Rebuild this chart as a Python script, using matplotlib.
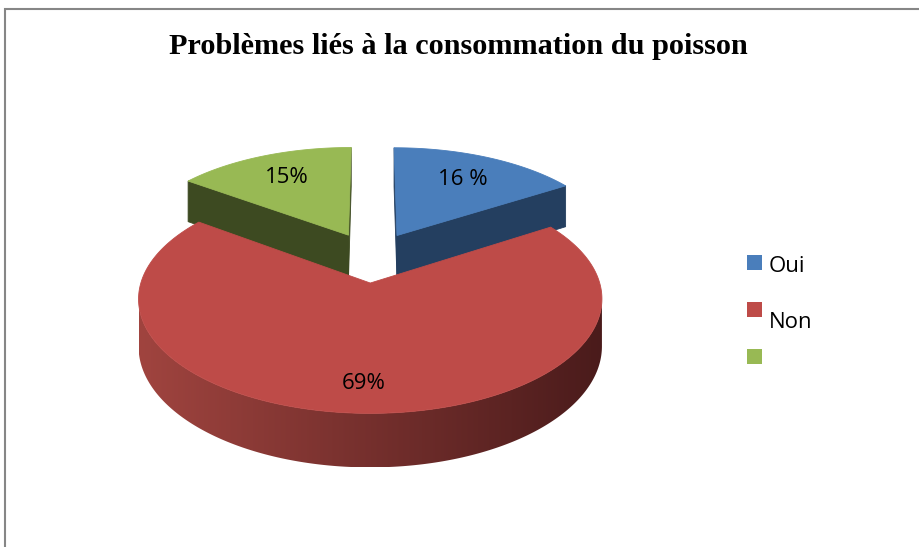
import numpy as np
import matplotlib.pyplot as plt
from matplotlib.patches import Polygon, Rectangle
from matplotlib.colors import to_rgb

# data
categories = ["Oui", "Non", ""]
values = [16, 69, 15]
labels = ["16 %", "69%", "15%"]
title = "Problèmes liés à la consommation du poisson"

top_colors = ["#4a7ebb", "#be4b48", "#98b954"]
face_colors = ["#243f60", "#7a302e", "#3d4a21"]
grad_left, grad_right = "#a0443f", "#4a1b1b"

# layout of the 3d pie (axes use pixel units)
CX, CY = 372, 257
SX, SY = 222, 105
BETA = 0.135      # perspective
DEPTH = 45
EXPLODE = 0.24
CAM = (0.0, -1.0 / BETA)
lab_r = [0.7, 0.8, 0.7]


def proj(X, Y, z=0.0):
    den = 1 + BETA * np.asarray(Y)
    return CX + SX * np.asarray(X) / den, CY - SY * np.asarray(Y) / den + z * DEPTH / den


def poly(ax, xs, ys, fc, z):
    p = Polygon(np.column_stack([xs, ys]), closed=True, fc=fc, ec=fc, lw=0.6, zorder=z)
    ax.add_patch(p)
    return p


fig = plt.figure(figsize=(9.19, 5.47), dpi=100)
ax = fig.add_axes([0, 0, 1, 1])
ax.axis("off")

total = sum(values)
bounds = np.concatenate([[0], np.cumsum(values)]) / total * 360.0
slices = []
for i in range(len(values)):
    a0, a1 = bounds[i], bounds[i + 1]
    mid = np.radians((a0 + a1) / 2)
    ox, oy = EXPLODE * np.sin(mid), EXPLODE * np.cos(mid)
    slices.append((i, a0, a1, ox, oy))

# back slices first
slices.sort(key=lambda s: -s[4])
z = 1
for i, a0, a1, ox, oy in slices:
    # flat radial faces
    for a, sgn in ((a0, -1), (a1, 1)):
        r = np.radians(a)
        n = (sgn * np.cos(r), -sgn * np.sin(r))
        p = (ox + 0.5 * np.sin(r), oy + 0.5 * np.cos(r))
        if n[0] * (CAM[0] - p[0]) + n[1] * (CAM[1] - p[1]) > 0:
            Xs = [ox, ox + np.sin(r), ox + np.sin(r), ox]
            Ys = [oy, oy + np.cos(r), oy + np.cos(r), oy]
            zs = [0, 0, 1, 1]
            px, py = zip(*[proj(X, Y, zz) for X, Y, zz in zip(Xs, Ys, zs)])
            poly(ax, px, py, face_colors[i], z)
            z += 1
    # curved outer side: visible part, filled with a horizontal gradient
    t = np.radians(np.linspace(a0, a1, 400))
    X = ox + np.sin(t)
    Y = oy + np.cos(t)
    vis = np.sin(t) * (CAM[0] - X) + np.cos(t) * (CAM[1] - Y) > 0
    if vis.any():
        Xv, Yv = X[vis], Y[vis]
        tx, ty = proj(Xv, Yv)
        bx, by = proj(Xv, Yv, 1)
        side = poly(ax, np.concatenate([tx, bx[::-1]]), np.concatenate([ty, by[::-1]]),
                    "none", z)
        side.set_edgecolor("none")
        cl, cr = np.array(to_rgb(grad_left)), np.array(to_rgb(grad_right))
        f = np.linspace(0, 1, 256)[None, :, None]
        grad = cl * (1 - f) + cr * f
        im = ax.imshow(grad, extent=(tx.min(), tx.max(), by.max(), ty.min()),
                       aspect="auto", interpolation="bilinear", zorder=z)
        im.set_clip_path(side)
        z += 1
    # top face
    tx, ty = proj(np.concatenate([[ox], X]), np.concatenate([[oy], Y]))
    poly(ax, tx, ty, top_colors[i], z)
    z += 1
    # data label
    mid = np.radians((a0 + a1) / 2)
    lx, ly = proj(ox + lab_r[i] * np.sin(mid), oy + lab_r[i] * np.cos(mid))
    ax.text(lx, ly, labels[i], ha="center", va="center", fontsize=16,
            family="Open Sans", color="black", zorder=50)

ax.set_xlim(0, 919)
ax.set_ylim(547, 0)

# legend
for j, cat in enumerate(categories):
    my = 262 + 47 * j
    ax.add_patch(Rectangle((747, my - 7), 14.5, 14.5, fc=top_colors[j], ec="none", zorder=50))
    ax.text(769, my + (5 if j == 0 else 14), cat, ha="left", va="center", fontsize=16,
            family="Open Sans", color="black", zorder=50)

ax.text(458, 54, title, ha="center", va="baseline", fontsize=21.8,
        family="Liberation Serif", weight="bold", color="black")

# chart border
ax.plot([4.5, 4.5, 919], [547, 8.5, 8.5], color="#868686", lw=1.5, solid_joinstyle="miter",
        clip_on=False)

fig.savefig("out.png", dpi=100, facecolor="white")
